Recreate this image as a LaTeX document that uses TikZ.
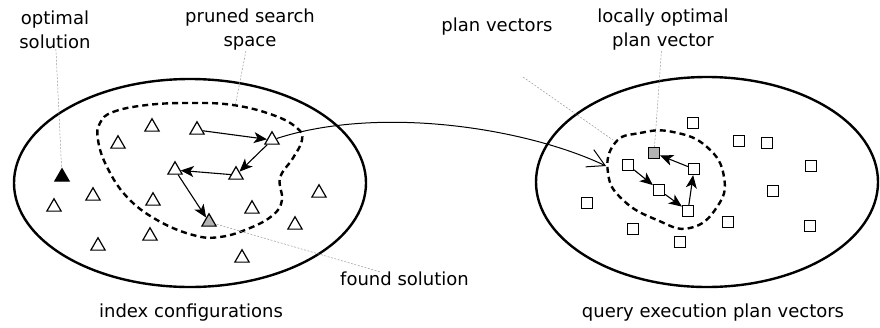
\documentclass[tikz,border=0pt]{standalone}
\usepackage{fontspec}
\setmainfont{DejaVu Sans}
\usetikzlibrary{shapes.geometric,arrows.meta}

\begin{document}
\begin{tikzpicture}[x=1pt, y=-1pt]
	\tikzstyle{every node} = [inner sep=0pt, font=\fontsize{18}{24}\selectfont]
	\tikzstyle{tri} = [draw, regular polygon, regular polygon sides=3, minimum size=16.5pt, yshift=-2pt, line width=1.2pt, fill=white]
	\tikzstyle{sq} = [draw, rectangle, minimum size=11pt, line width=1.2pt, fill=white]
	\tikzstyle{lbl} = [align=center]
	\tikzstyle{set} = [line width=2.4pt]
	\tikzstyle{pruned} = [line width=2.4pt, dash pattern=on 6pt off 4pt]
	\tikzstyle{move} = [-{Stealth[length=13pt, width=11pt, inset=3.5pt]}, line width=1.1pt]
	\tikzstyle{pointer} = [gray!80, line width=0.5pt, dash pattern=on 2pt off 1.5pt]
	\useasboundingbox (0,0) rectangle (880,327);

	% the two spaces
	\draw [set] (190,183) ellipse [x radius=176, y radius=104];
	\draw [set] (707,182) ellipse [x radius=171, y radius=105];
	\draw [pruned] plot [smooth cycle, tension=0.7] coordinates {
		(100,123) (113,112) (147,105) (190,103) (233,105) (273,115) (297,128)
		(302,140) (293,158) (280,178) (282,200) (273,215) (250,228) (220,237)
		(193,235) (157,220) (127,197) (107,167) (98,140)};
	\draw [pruned] plot [smooth cycle, tension=0.8] coordinates {
		(615,143) (640,133) (673,132) (707,147) (724,177) (717,207) (690,228)
		(657,220) (623,200) (608,173)};

	% index configurations
	\node [tri, fill=black] (c1) at (62,175) {};
	\node [tri] (c2) at (54,205) {};
	\node [tri] (c3) at (93,194) {};
	\node [tri] (c4) at (98,244) {};
	\node [tri] (c5) at (118,142) {};
	\node [tri] (c6) at (152,125) {};
	\node [tri] (c7) at (197,128) {};
	\node [tri] (c8) at (272,138) {};
	\node [tri] (c9) at (175,168) {};
	\node [tri] (c10) at (236,173) {};
	\node [tri] (c11) at (153,199) {};
	\node [tri] (c12) at (150,234) {};
	\node [tri, fill=gray!60] (c13) at (209,220) {};
	\node [tri] (c14) at (252,207) {};
	\node [tri] (c15) at (295,223) {};
	\node [tri] (c16) at (319,191) {};
	\node [tri] (c17) at (242,256) {};

	% plan vectors
	\node [sq] (p1) at (693,123) {};
	\node [sq] (p2) at (739,141) {};
	\node [sq] (p3) at (767,143) {};
	\node [sq] (p4) at (811,166) {};
	\node [sq] (p5) at (773,191) {};
	\node [sq] (p6) at (810,226) {};
	\node [sq] (p7) at (728,222) {};
	\node [sq] (p8) at (680,242) {};
	\node [sq] (p9) at (633,229) {};
	\node [sq] (p10) at (587,203) {};
	\node [sq] (p11) at (628,165) {};
	\node [sq, fill=gray!60] (p12) at (654,153) {};
	\node [sq] (p13) at (694,169) {};
	\node [sq] (p14) at (659,190) {};
	\node [sq] (p15) at (688,211) {};

	% search steps
	\draw [move] (c7)--(c8);
	\draw [move] (c8)--(c10);
	\draw [move] (c10)--(c9);
	\draw [move] (c9)--(c13);
	\draw [move] (p11)--(p14);
	\draw [move] (p14)--(p15);
	\draw [move] (p15)--(p13);
	\draw [move] (p13)--(p12);

	% mapping into the plan space
	\coordinate (entry) at (606,166);
	\draw [-{Straight Barb[length=17pt, width=19pt]}, line width=1pt] (c8) .. controls (380,105) and (526,128) .. (entry);

	% labels
	\node [lbl] (os) at (55,30) {optimal\\solution};
	\node [lbl] (ps) at (250,30) {pruned search\\space};
	\node (pv) at (497,27) {plan vectors};
	\node [lbl] (lo) at (663,30) {locally optimal\\plan vector};
	\node [anchor=west] (fs) at (340,279) {found solution};
	\node (ic) at (191,313) {index configurations};
	\node (qe) at (713,313) {query execution plan vectors};

	\coordinate (psend) at (235,107);
	\coordinate (pvstart) at (523,77);
	\coordinate (pvend) at (613,140);
	\draw [pointer] (os)--(c1);
	\draw [pointer] (ps)--(psend);
	\draw [pointer] (fs)--(c13);
	\draw [pointer] (pvstart)--(pvend);
	\draw [pointer] (lo)--(p12);
\end{tikzpicture}
\end{document}
